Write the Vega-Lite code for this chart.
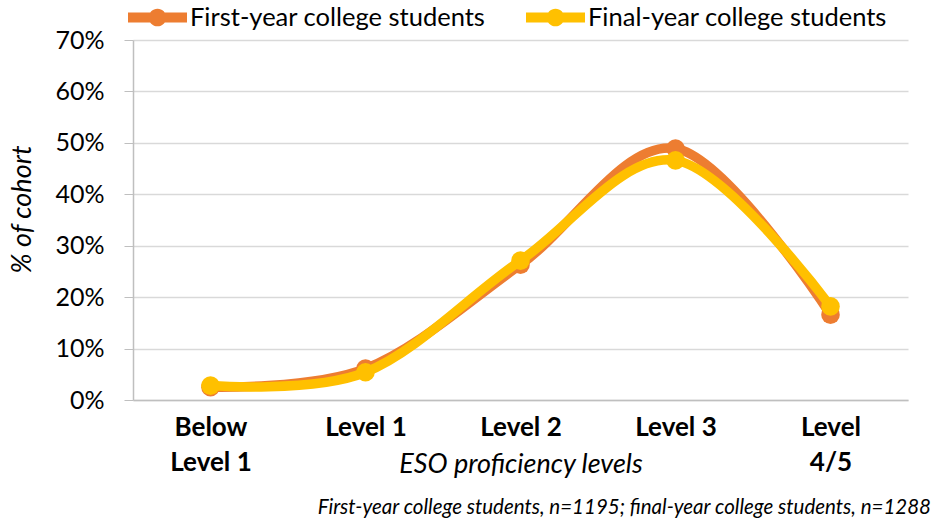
{
  "$schema": "https://vega.github.io/schema/vega-lite/v6.json",
  "autosize": "none",
  "width": 775,
  "height": 360,
  "padding": {"left": 133, "top": 40, "right": 27, "bottom": 121},
  "background": "white",
  "config": {
    "view": {"stroke": null},
    "font": "Lato"
  },
  "title": {
    "text": "First-year college students, n=1195; final-year college students, n=1288",
    "orient": "bottom",
    "anchor": "end",
    "frame": "group",
    "font": "Lato",
    "fontSize": 20.5,
    "fontStyle": "italic",
    "fontWeight": "normal",
    "color": "#000000",
    "dx": 23,
    "offset": 21
  },
  "data": {
    "values": [
      {"level": "Below Level 1", "cohort": "First-year college students", "pct": 2.5},
      {"level": "Level 1", "cohort": "First-year college students", "pct": 6.1},
      {"level": "Level 2", "cohort": "First-year college students", "pct": 26.3},
      {"level": "Level 3", "cohort": "First-year college students", "pct": 48.9},
      {"level": "Level 4/5", "cohort": "First-year college students", "pct": 16.6},
      {"level": "Below Level 1", "cohort": "Final-year college students", "pct": 2.8},
      {"level": "Level 1", "cohort": "Final-year college students", "pct": 5.4},
      {"level": "Level 2", "cohort": "Final-year college students", "pct": 27.1},
      {"level": "Level 3", "cohort": "Final-year college students", "pct": 46.6},
      {"level": "Level 4/5", "cohort": "Final-year college students", "pct": 18.2}
    ]
  },
  "encoding": {
    "x": {
      "field": "level",
      "type": "nominal",
      "sort": ["Below Level 1", "Level 1", "Level 2", "Level 3", "Level 4/5"],
      "scale": {"type": "point", "padding": 0.5},
      "axis": {
        "title": "ESO proficiency levels",
        "titleFont": "Lato",
        "titleFontSize": 27,
        "titleFontStyle": "italic",
        "titleFontWeight": "normal",
        "titleColor": "#000000",
        "titleY": 72,
        "titleBaseline": "alphabetic",
        "labelAngle": 0,
        "labelFont": "Lato",
        "labelFontSize": 26,
        "labelFontWeight": "bold",
        "labelColor": "#000000",
        "labelLineHeight": 35,
        "labelPadding": 14,
        "labelExpr": "datum.label == 'Below Level 1' ? ['Below', 'Level 1'] : datum.label == 'Level 4/5' ? ['Level', '4/5'] : datum.label",
        "ticks": false,
        "grid": false,
        "domainColor": "#BFBFBF",
        "domainWidth": 1.5
      }
    },
    "y": {
      "field": "pct",
      "type": "quantitative",
      "scale": {"domain": [0, 70], "nice": false},
      "axis": {
        "title": "% of cohort",
        "titleFont": "Lato",
        "titleFontSize": 27,
        "titleFontStyle": "italic",
        "titleFontWeight": "normal",
        "titleColor": "#000000",
        "titleX": -111,
        "titleY": 169,
        "titleBaseline": "middle",
        "values": [0, 10, 20, 30, 40, 50, 60, 70],
        "labelExpr": "datum.value + '%'",
        "labelFont": "Lato",
        "labelFontSize": 25,
        "labelColor": "#000000",
        "labelPadding": 20,
        "tickSize": 9,
        "tickColor": "#BFBFBF",
        "domainColor": "#BFBFBF",
        "domainWidth": 1.5,
        "gridColor": "#D9D9D9",
        "gridWidth": 1.5
      }
    },
    "color": {
      "field": "cohort",
      "type": "nominal",
      "scale": {
        "domain": ["First-year college students", "Final-year college students"],
        "range": ["#ED7D31", "#FFC000"]
      },
      "legend": {
        "title": null,
        "orient": "none",
        "direction": "horizontal",
        "legendX": -5,
        "legendY": -52,
        "symbolType": "M-1,-0.17H1V0.17H-1Z M0.3,0A0.3,0.3 0 1 1 -0.3,0A0.3,0.3 0 1 1 0.3,0Z",
        "symbolSize": 3481,
        "symbolStrokeWidth": 0,
        "labelFont": "Lato",
        "labelFontSize": 25.5,
        "labelColor": "#000000",
        "labelLimit": 0,
        "labelOffset": 3,
        "columnPadding": 40,
        "encode": {
          "symbols": {
            "update": {
              "fill": {"scale": "color", "field": "value"},
              "stroke": {"value": "transparent"},
              "opacity": {"value": 1}
            }
          }
        }
      }
    }
  },
  "layer": [
    {
      "transform": [{"filter": "datum.cohort == 'First-year college students'"}],
      "mark": {"type": "line", "interpolate": "cardinal", "strokeWidth": 9.5, "strokeCap": "round", "strokeJoin": "round"}
    },
    {
      "transform": [{"filter": "datum.cohort == 'First-year college students'"}],
      "mark": {"type": "point", "filled": true, "size": 345, "opacity": 1}
    },
    {
      "transform": [{"filter": "datum.cohort == 'Final-year college students'"}],
      "mark": {"type": "line", "interpolate": "cardinal", "strokeWidth": 9.5, "strokeCap": "round", "strokeJoin": "round"}
    },
    {
      "transform": [{"filter": "datum.cohort == 'Final-year college students'"}],
      "mark": {"type": "point", "filled": true, "size": 345, "opacity": 1}
    }
  ]
}
